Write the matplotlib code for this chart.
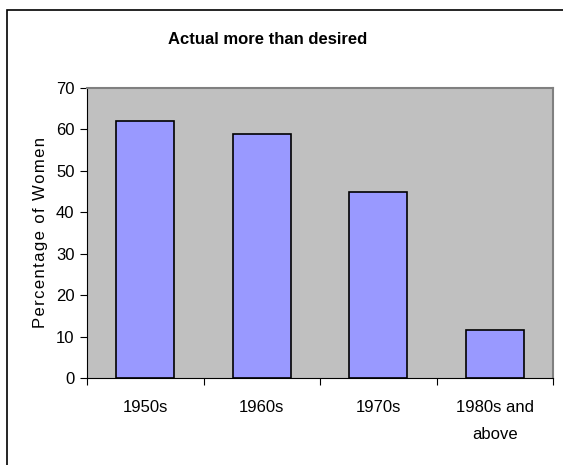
import matplotlib
matplotlib.use("Agg")
import matplotlib.pyplot as plt
from matplotlib.patches import Rectangle

categories = ["1950s", "1960s", "1970s", "1980s and\nabove"]
values = [62, 59, 45, 11.5]
y_ticks = [0, 10, 20, 30, 40, 50, 60, 70]

plt.rcParams["font.family"] = ["Liberation Sans", "DejaVu Sans"]

fig = plt.figure(figsize=(5.63, 4.65), dpi=100)

# chart area border (cut off at right and bottom like the screenshot)
fig.patches.append(Rectangle((7.5 / 563, -0.1), 1.2, 1 - 10.5 / 465 + 0.1,
                             transform=fig.transFigure, fill=False,
                             edgecolor="black", linewidth=1.2))

ax = fig.add_axes([87 / 563, 1 - 378 / 465, (553 - 87) / 563, (378 - 88) / 465])
ax.set_facecolor("#C0C0C0")

x = list(range(len(categories)))
ax.bar(x, values, width=0.5, color="#9999FF", edgecolor="black", linewidth=1.2, zorder=2)

ax.set_xlim(-0.5, len(categories) - 0.5)
ax.set_ylim(0, 70)
ax.set_yticks(y_ticks)
ax.tick_params(axis="y", labelsize=12, direction="out", length=5, width=0.8, pad=4)

# category labels between boundary ticks
ax.set_xticks([i - 0.5 for i in range(len(categories) + 1)])
ax.set_xticklabels([])
ax.set_xticks(x, minor=True)
ax.set_xticklabels(categories, minor=True, fontsize=12, linespacing=2.0)
ax.tick_params(axis="x", which="major", direction="out", length=5, width=0.8)
ax.tick_params(axis="x", which="minor", length=0, pad=16)

for side in ["top", "right"]:
    ax.spines[side].set_color("#808080")
    ax.spines[side].set_linewidth(1.5)
ax.spines["left"].set_color("black")
ax.spines["bottom"].set_color("black")

ylab = "\u200a".join("Percentage of Women")
ax.set_ylabel(ylab, fontsize=12, labelpad=6)
fig.text(268 / 563, 1 - 40 / 465, "Actual more than desired", ha="center", va="center",
         fontsize=12, fontweight="bold")

fig.savefig("out.png", dpi=100)
